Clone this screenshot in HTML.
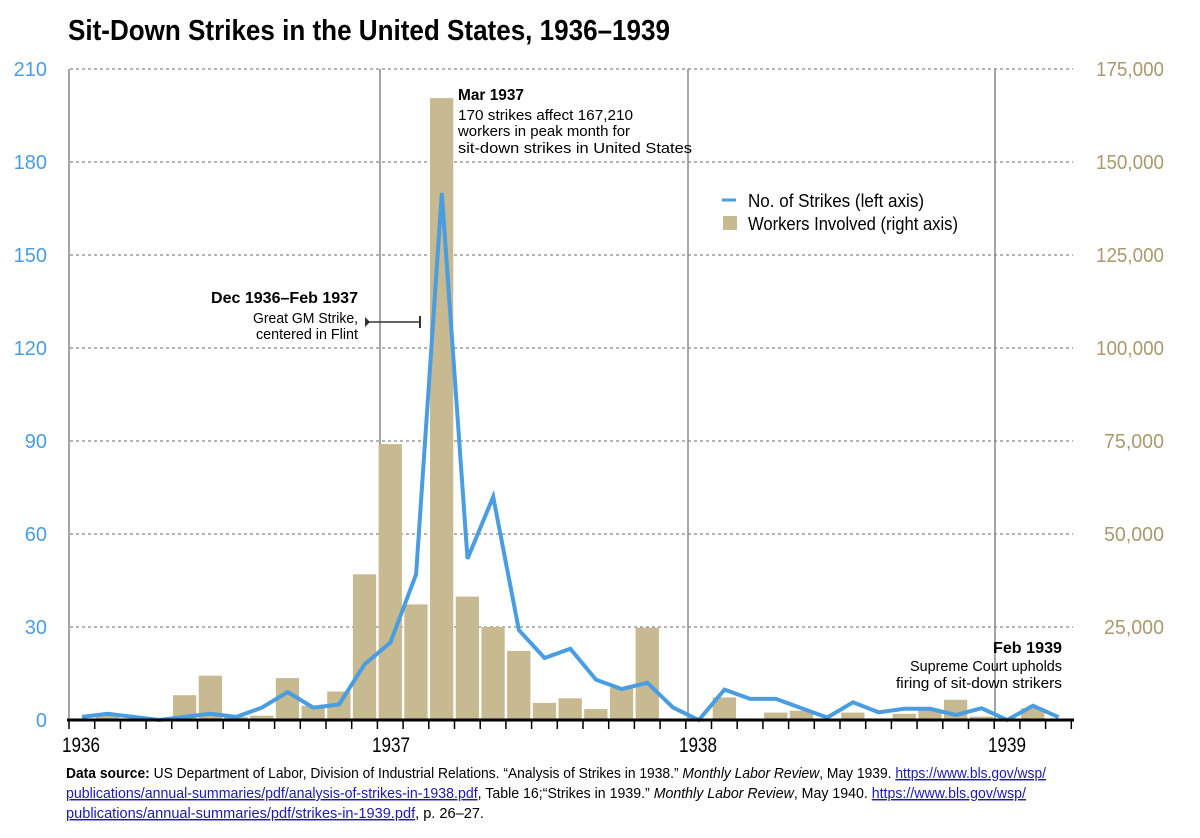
<!DOCTYPE html>
<html><head><meta charset="utf-8"><style>
html,body{margin:0;padding:0;background:#fff}
svg{display:block}
text{font-family:"Liberation Sans Narrow","Liberation Sans",sans-serif}
</style></head><body>
<svg width="1200" height="838" viewBox="0 0 1200 838" xmlns="http://www.w3.org/2000/svg">
<text x="68" y="40" font-size="29" font-weight="bold" textLength="602" lengthAdjust="spacingAndGlyphs">Sit-Down Strikes in the United States, 1936–1939</text>
<g stroke="#888" stroke-width="1.2" stroke-dasharray="3,3">
<line x1="70" y1="69" x2="1073" y2="69"/><line x1="70" y1="162" x2="1073" y2="162"/>
<line x1="70" y1="255" x2="1073" y2="255"/><line x1="70" y1="348" x2="1073" y2="348"/>
<line x1="70" y1="441" x2="1073" y2="441"/><line x1="70" y1="534" x2="1073" y2="534"/>
<line x1="70" y1="627" x2="1073" y2="627"/>
</g>
<g stroke="#888" stroke-width="1.5">
<line x1="69" y1="69" x2="69" y2="720"/><line x1="380" y1="69" x2="380" y2="720"/>
<line x1="688" y1="69" x2="688" y2="720"/><line x1="995" y1="69" x2="995" y2="720"/>
</g>
<g fill="#4a9de0" font-size="20" text-anchor="end">
<text x="47" y="76">210</text><text x="47" y="169">180</text><text x="47" y="262">150</text>
<text x="47" y="355">120</text><text x="47" y="448">90</text><text x="47" y="541">60</text>
<text x="47" y="634">30</text><text x="47" y="727">0</text>
</g>
<g fill="#a89a6e" font-size="20" text-anchor="end" lengthAdjust="spacingAndGlyphs">
<text x="1164" y="76" textLength="68" lengthAdjust="spacingAndGlyphs">175,000</text><text x="1164" y="169" textLength="68" lengthAdjust="spacingAndGlyphs">150,000</text><text x="1164" y="262" textLength="68" lengthAdjust="spacingAndGlyphs">125,000</text>
<text x="1164" y="355" textLength="68" lengthAdjust="spacingAndGlyphs">100,000</text><text x="1164" y="448" textLength="60" lengthAdjust="spacingAndGlyphs">75,000</text><text x="1164" y="541" textLength="60" lengthAdjust="spacingAndGlyphs">50,000</text>
<text x="1164" y="634" textLength="60" lengthAdjust="spacingAndGlyphs">25,000</text>
</g>
<g transform="translate(0,720) scale(1,-1)" fill="#c7b990">
<rect x="96" y="0" width="23.3" height="6.2"/><rect x="173" y="0" width="23.3" height="24.8"/>
<rect x="198.7" y="0" width="23.3" height="44.3"/><rect x="224.4" y="0" width="23.3" height="3.1"/>
<rect x="250.1" y="0" width="23.3" height="4.3"/><rect x="275.8" y="0" width="23.3" height="41.9"/>
<rect x="301.5" y="0" width="23.3" height="14.3"/><rect x="327.2" y="0" width="23.3" height="28.5"/>
<rect x="352.9" y="0" width="23.3" height="145.7"/><rect x="378.6" y="0" width="23.3" height="275.9"/>
<rect x="404.3" y="0" width="23.3" height="115.6"/><rect x="430" y="0" width="23.3" height="621.9"/>
<rect x="455.7" y="0" width="23.3" height="123.4"/><rect x="481.4" y="0" width="23.3" height="93"/>
<rect x="507.1" y="0" width="23.3" height="69.1"/><rect x="532.8" y="0" width="23.3" height="17.1"/>
<rect x="558.5" y="0" width="23.3" height="21.7"/><rect x="584.2" y="0" width="23.3" height="10.9"/>
<rect x="609.9" y="0" width="23.3" height="32.6"/><rect x="635.6" y="0" width="23.3" height="92.4"/>
<rect x="712.7" y="0" width="23.3" height="22.6"/><rect x="738.4" y="0" width="23.3" height="1.2"/>
<rect x="764.1" y="0" width="23.3" height="7.4"/><rect x="789.8" y="0" width="23.3" height="9.3"/>
<rect x="841.2" y="0" width="23.3" height="7.4"/><rect x="892.6" y="0" width="23.3" height="6.2"/>
<rect x="918.3" y="0" width="23.3" height="10.2"/><rect x="944" y="0" width="23.3" height="20.2"/>
<rect x="969.7" y="0" width="23.3" height="3.4"/><rect x="1021.1" y="0" width="23.3" height="11.8"/>
</g>
<polyline fill="none" stroke="#4a9de0" stroke-width="4" stroke-linejoin="miter" points="82,716.9 107.7,713.8 133.4,716.9 159.1,720 184.8,716.9 210.5,713.8 236.2,716.9 261.9,707.6 287.6,692.1 313.3,707.6 339,704.5 364.7,664.2 390.4,642.5 416.1,574.3 441.8,193 467.5,558.8 493.2,496.8 518.9,630.1 544.6,658 570.3,648.7 596,679.7 621.7,689 647.4,682.8 673.1,707.6 698.8,720 724.5,689.6 750.2,698.9 775.9,698.9 801.6,708.2 827.3,717.5 853,702.3 878.7,712.3 904.4,708.8 930.1,708.8 955.8,715 981.5,708.2 1007.2,720 1032.9,705.7 1058.6,717.2"/>
<line x1="67" y1="720" x2="1074" y2="720" stroke="#000" stroke-width="3"/>
<g stroke="#000" stroke-width="1.5">
<path d="M69 720v9M94.7 720v9M120.4 720v9M146.1 720v9M171.8 720v9M197.5 720v9M223.2 720v9M248.9 720v9M274.6 720v9M300.3 720v9M326 720v9M351.7 720v9M377.4 720v9M403.1 720v9M428.8 720v9M454.5 720v9M480.2 720v9M505.9 720v9M531.6 720v9M557.3 720v9M583 720v9M608.7 720v9M634.4 720v9M660.1 720v9M685.8 720v9M711.5 720v9M737.2 720v9M762.9 720v9M788.6 720v9M814.3 720v9M840 720v9M865.7 720v9M891.4 720v9M917.1 720v9M942.8 720v9M968.5 720v9M994.2 720v9M1019.9 720v9M1045.6 720v9M1071.3 720v9"/>
</g>
<g font-size="21">
<text x="62" y="752" textLength="38" lengthAdjust="spacingAndGlyphs">1936</text><text x="372" y="752" textLength="38" lengthAdjust="spacingAndGlyphs">1937</text><text x="679" y="752" textLength="38" lengthAdjust="spacingAndGlyphs">1938</text><text x="988" y="752" textLength="38" lengthAdjust="spacingAndGlyphs">1939</text>
</g>
<line x1="722" y1="200" x2="736" y2="200" stroke="#4a9de0" stroke-width="3"/>
<rect x="723" y="216" width="14" height="14" fill="#c7b990"/>
<text x="748" y="207" font-size="18" textLength="176" lengthAdjust="spacingAndGlyphs">No. of Strikes (left axis)</text>
<text x="748" y="230" font-size="18" textLength="210" lengthAdjust="spacingAndGlyphs">Workers Involved (right axis)</text>
<text x="458" y="100" font-size="16" font-weight="bold" textLength="66" lengthAdjust="spacingAndGlyphs">Mar 1937</text>
<g font-size="14.5"><text x="458" y="120" textLength="175" lengthAdjust="spacingAndGlyphs">170 strikes affect 167,210</text>
<text x="458" y="136" textLength="172" lengthAdjust="spacingAndGlyphs">workers in peak month for</text>
<text x="458" y="153" textLength="234" lengthAdjust="spacingAndGlyphs">sit-down strikes in United States</text></g>
<g text-anchor="end">
<text x="358" y="303" font-size="16" font-weight="bold" textLength="147" lengthAdjust="spacingAndGlyphs">Dec 1936–Feb 1937</text>
<text x="358" y="323" font-size="14.5" textLength="105" lengthAdjust="spacingAndGlyphs">Great GM Strike,</text>
<text x="358" y="339" font-size="14.5" textLength="102" lengthAdjust="spacingAndGlyphs">centered in Flint</text>
<text x="1062" y="653" font-size="16" font-weight="bold" textLength="69" lengthAdjust="spacingAndGlyphs">Feb 1939</text>
<text x="1062" y="671" font-size="14.5" textLength="152" lengthAdjust="spacingAndGlyphs">Supreme Court upholds</text>
<text x="1062" y="688" font-size="14.5" textLength="166" lengthAdjust="spacingAndGlyphs">firing of sit-down strikers</text>
</g>
<line x1="367" y1="322" x2="420" y2="322" stroke="#333" stroke-width="1.5"/>
<path d="M365 317l5 5-5 5z" fill="#333"/><line x1="420" y1="316" x2="420" y2="328" stroke="#333" stroke-width="2"/>
<g font-size="14.5">
<text x="66" y="778" textLength="980" lengthAdjust="spacingAndGlyphs"><tspan font-weight="bold">Data source:</tspan> US Department of Labor, Division of Industrial Relations. “Analysis of Strikes in 1938.” <tspan font-style="italic">Monthly Labor Review</tspan>, May 1939. <tspan fill="#1a1ab0" text-decoration="underline">https://www.bls.gov/wsp/</tspan></text>
<text x="66" y="798" textLength="960" lengthAdjust="spacingAndGlyphs"><tspan fill="#1a1ab0" text-decoration="underline">publications/annual-summaries/pdf/analysis-of-strikes-in-1938.pdf</tspan>, Table 16;“Strikes in 1939.” <tspan font-style="italic">Monthly Labor Review</tspan>, May 1940. <tspan fill="#1a1ab0" text-decoration="underline">https://www.bls.gov/wsp/</tspan></text>
<text x="66" y="818" textLength="418" lengthAdjust="spacingAndGlyphs"><tspan fill="#1a1ab0" text-decoration="underline">publications/annual-summaries/pdf/strikes-in-1939.pdf</tspan>, p. 26–27.</text>
</g>
</svg>
</body></html>
